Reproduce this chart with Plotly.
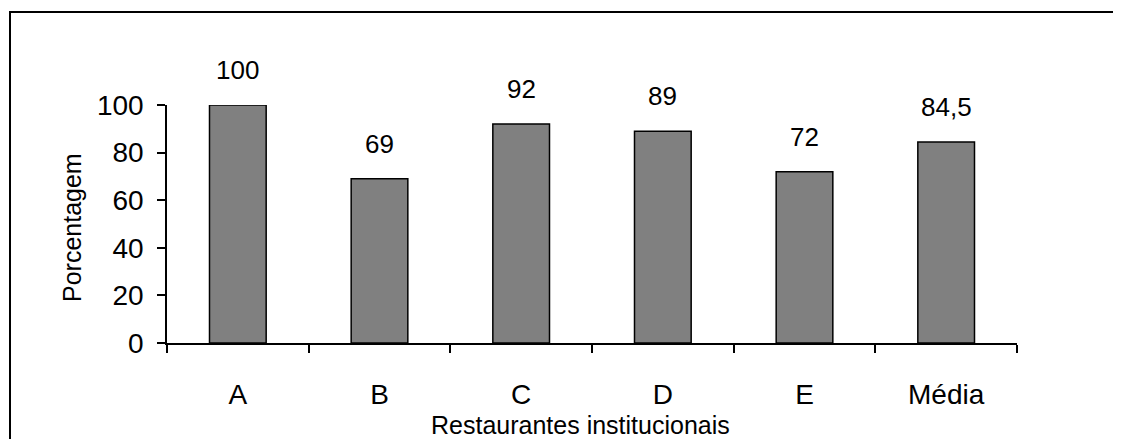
import plotly.graph_objects as go

categories = ["A", "B", "C", "D", "E", "Média"]
values = [100, 69, 92, 89, 72, 84.5]
value_labels = ["100", "69", "92", "89", "72", "84,5"]
y_ticks = [0, 20, 40, 60, 80, 100]
x_title = "Restaurantes institucionais"
y_title = "Porcentagem"

FONT = "Liberation Sans, Arial, sans-serif"
TICK_FS = 28
LABEL_FS = 26
TITLE_FS = 25

# page body adds an 8px margin, so the figure is drawn 8px smaller and shifted
OFF = 8
W, H = 1121 - OFF, 439 - OFF
L, T = 167 - OFF, 105 - OFF
R = W - (1017 - OFF)
B = H - (343 - OFF)
pw, ph = W - L - R, H - T - B

fig = go.Figure()
fig.add_trace(go.Bar(
    x=categories, y=values, width=0.4,
    marker=dict(color="#808080", line=dict(color="black", width=1.5)),
    hoverinfo="skip",
))

for c, v, t in zip(categories, values, value_labels):
    fig.add_annotation(x=c, y=v, text=t, showarrow=False, yanchor="middle",
                       yshift=35, font=dict(family=FONT, size=LABEL_FS, color="black"))

# axis titles
fig.add_annotation(xref="paper", yref="paper", x=0.5, y=0, text=x_title,
                   showarrow=False, xanchor="center", yanchor="middle",
                   xshift=-12, yshift=-82,
                   font=dict(family=FONT, size=TITLE_FS, color="black"))
fig.add_annotation(xref="paper", yref="paper", x=0, y=0.5, text=y_title,
                   showarrow=False, xanchor="center", yanchor="middle",
                   textangle=-90, xshift=-95, yshift=-4,
                   font=dict(family=FONT, size=TITLE_FS, color="black"))

fig.add_shape(type="rect", xref="paper", yref="paper",
              x0=(10 - OFF - L) / pw, x1=(W + 20 - L) / pw,
              y0=(H - B - (H + 20)) / ph, y1=(H - B - (12 - OFF)) / ph,
              line=dict(color="black", width=2), fillcolor="rgba(0,0,0,0)", layer="below")

fig.update_layout(
    width=W, height=H,
    margin=dict(l=L, r=R, t=T, b=B, pad=0),
    paper_bgcolor="white", plot_bgcolor="white",
    showlegend=False,
    font=dict(family=FONT, size=TICK_FS, color="black"),
    xaxis=dict(
        showline=True, linecolor="black", linewidth=1.5,
        ticks="outside", tickson="boundaries", ticklen=8, tickcolor="black", tickwidth=1.5,
        ticklabelstandoff=26, tickfont=dict(size=TICK_FS),
        showgrid=False, zeroline=False,
    ),
    yaxis=dict(
        range=[0, 100], tickvals=y_ticks,
        showline=True, linecolor="black", linewidth=1.5,
        ticks="outside", ticklen=8, tickcolor="black", tickwidth=1.5,
        ticklabelstandoff=8, tickfont=dict(size=TICK_FS),
        showgrid=False, zeroline=False,
    ),
)

fig.write_html("out.html")
